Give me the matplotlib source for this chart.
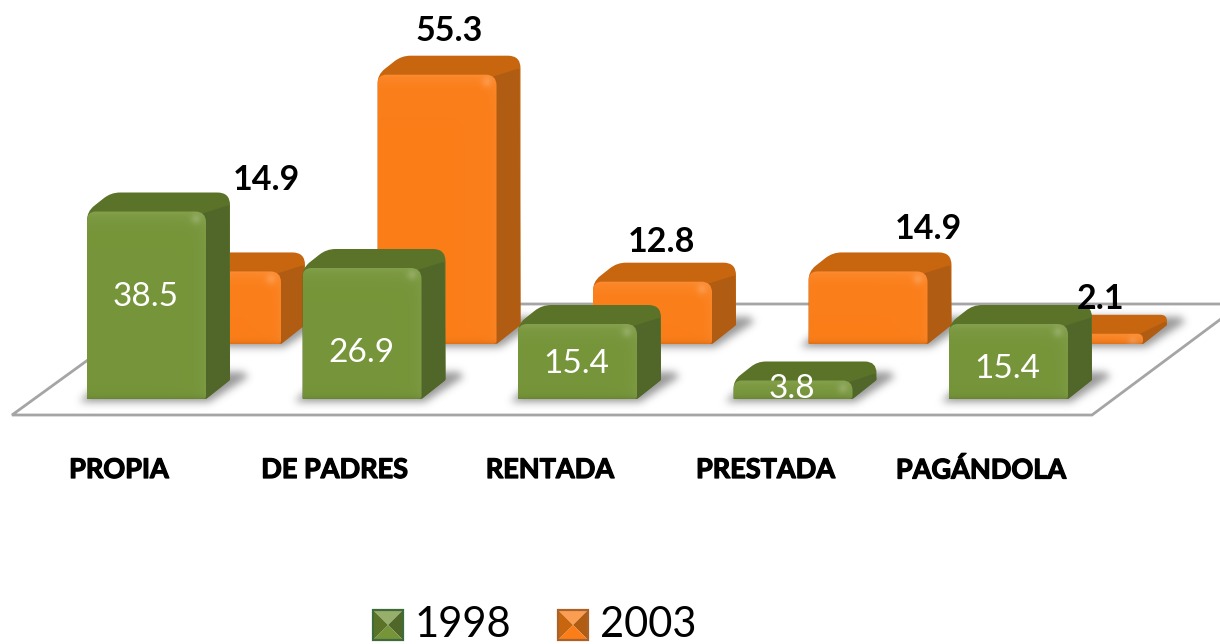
import numpy as np
import matplotlib
matplotlib.use("Agg")
import matplotlib.pyplot as plt
import matplotlib.patheffects as pe
from matplotlib.path import Path
from matplotlib.patches import PathPatch, Polygon

categories = ["PROPIA", "DE PADRES", "RENTADA", "PRESTADA", "PAGÁNDOLA"]
values_1998 = [38.5, 26.9, 15.4, 3.8, 15.4]
values_2003 = [14.9, 55.3, 12.8, 14.9, 2.1]
series_names = ["1998", "2003"]

# pixel offsets for the value labels, the picture does not place them evenly
green_label_dy = [8, -20, -2, 1, -7]
orange_label_dx = [33, 0, -3, 48, 5]
orange_label_dy = [72, 25, 21, 23, 16]

plt.rcParams["font.family"] = ["Lato", "DejaVu Sans"]

W, H = 1220, 644
SX = 215.5   # px per category
SY = 4.87    # px per value unit
X0 = 87      # px of first green bar
Y0 = 399     # px of green baseline
BAR_W = 119
DEPTH_X = 24
DEPTH_Y = 19
ORANGE_DX = 75
ORANGE_DY = 55

GREEN = dict(front=(0.463, 0.584, 0.224), top=(0.353, 0.451, 0.161), side=(0.318, 0.404, 0.165))
ORANGE = dict(front=(0.984, 0.494, 0.098), top=(0.780, 0.400, 0.059), side=(0.690, 0.361, 0.071))

fig = plt.figure(figsize=(W / 100, H / 100), dpi=100)
ax = fig.add_axes([0, 0, 1, 1])
ax.set_xlim(-X0 / SX, (W - X0) / SX)
ax.set_ylim(-(H - Y0) / SY, Y0 / SY)
ax.axis("off")


def px(x, y):
    # picture pixels to data coords
    return (x - X0) / SX, (Y0 - y) / SY


def rounded(points, radii):
    # closed path through pixel points with rounded corners
    pts = np.array(points, dtype=float)
    n = len(pts)
    verts, codes = [], []
    for i in range(n):
        p, a, b = pts[i], pts[i - 1], pts[(i + 1) % n]
        r = radii[i]
        if r <= 0:
            verts.append(p)
            codes.append(Path.LINETO)
            continue
        u = (a - p) / np.linalg.norm(a - p)
        v = (b - p) / np.linalg.norm(b - p)
        verts += [p + u * r, p, p + v * r]
        codes += [Path.LINETO, Path.CURVE3, Path.CURVE3]
    codes[0] = Path.MOVETO
    verts.append(verts[0])
    codes.append(Path.CLOSEPOLY)
    verts = np.array([px(*q) for q in verts])
    return Path(verts, codes)


def blur(a, sigma):
    k = np.exp(-0.5 * (np.arange(-12, 13) / sigma) ** 2)
    k = k / k.sum()
    a = np.apply_along_axis(lambda m: np.convolve(m, k, mode="same"), 0, a)
    a = np.apply_along_axis(lambda m: np.convolve(m, k, mode="same"), 1, a)
    return a


def shadow(xl, xr, yb, z):
    pts = [(xl - 8, yb + 3), (xr + 3, yb + 3), (xr + DEPTH_X + 18, yb - 22),
           (xr + DEPTH_X + 14, yb - 27), (xl + DEPTH_X, yb - 27)]
    x1, x2 = int(xl - 30), int(xr + DEPTH_X + 50)
    y1, y2 = int(yb - 50), int(yb + 24)
    yy, xx = np.mgrid[y1:y2, x1:x2]
    mask = Path(pts).contains_points(np.c_[xx.ravel() + 0.5, yy.ravel() + 0.5]).reshape(xx.shape)
    alpha = blur(mask.astype(float), 4.0) * 0.62
    img = np.zeros(xx.shape + (4,))
    img[..., :3] = 0.35
    img[..., 3] = alpha
    a, b = px(x1, y2)
    c, d = px(x2, y1)
    ax.imshow(img, extent=(a, c, b, d), aspect="auto", interpolation="bilinear", zorder=z)


def front_image(w, h, base):
    w, h = int(w), int(max(h, 2))
    yy, xx = np.mgrid[0:h, 0:w]
    yy = yy + 0.5
    xx = xx + 0.5
    base = np.array(base)
    light = np.exp(-yy / 7.0) * 0.11 + np.exp(-(w - xx) / 6.0) * 0.05
    spot = np.exp(-(((xx - (w - 10)) ** 2 + (yy - 8) ** 2) / 26.0)) * 0.16
    dark = np.exp(-(h - yy) / 2.5) * 0.12
    img = base[None, None, :] + (1 - base[None, None, :]) * (light + spot)[..., None]
    img = img * (1 - dark)[..., None]
    return np.clip(img, 0, 1)


def bar3d(xl, yb, value, colors, z):
    h = value * SY
    yt = yb - h
    xr = xl + BAR_W
    r = min(9, h * 0.45)
    outline = [(xl, yb), (xl, yt), (xl + DEPTH_X, yt - DEPTH_Y), (xr + DEPTH_X, yt - DEPTH_Y),
               (xr + DEPTH_X, yb - DEPTH_Y), (xr, yb)]
    ax.add_patch(PathPatch(rounded(outline, [1, r, r, r * 1.4, 1, 1]), facecolor=colors["top"],
                           edgecolor="none", zorder=z))
    side = [(xr - 6, yt + r * 0.3), (xr + DEPTH_X - 1, yt - DEPTH_Y + r * 1.4),
            (xr + DEPTH_X, yb - DEPTH_Y), (xr, yb)]
    ax.add_patch(PathPatch(rounded(side, [0, 2, 1, 1]), facecolor=colors["side"],
                           edgecolor="none", zorder=z + 0.1))
    face = [(xl, yb), (xl, yt), (xr, yt), (xr, yb)]
    clip = PathPatch(rounded(face, [1, r, r * 1.2, 3]), facecolor="none", edgecolor="none",
                     transform=ax.transData, zorder=z + 0.2)
    ax.add_patch(clip)
    x1, y1 = px(xl, yb)
    x2, y2 = px(xr, yt)
    im = ax.imshow(front_image(BAR_W, h, colors["front"]), extent=(x1, x2, y1, y2),
                   aspect="auto", interpolation="bilinear", zorder=z + 0.2)
    im.set_clip_path(clip)


# floor
floor = [px(12, 415), px(1092, 415), px(1241, 304), px(165, 304)]
ax.add_patch(Polygon(floor, closed=True, facecolor="white", edgecolor="#a5a5a5", lw=2, zorder=1))

# orange row sits behind, then the green one
for i, v in enumerate(values_2003):
    xl = X0 + SX * i + ORANGE_DX
    shadow(xl, xl + BAR_W, Y0 - ORANGE_DY, 2)
    bar3d(xl, Y0 - ORANGE_DY, v, ORANGE, 3 + i * 0.01)
for i, v in enumerate(values_1998):
    xl = X0 + SX * i
    shadow(xl, xl + BAR_W, Y0, 4)
for i, v in enumerate(values_1998):
    xl = X0 + SX * i
    bar3d(xl, Y0, v, GREEN, 5 + i * 0.01)

ax.set_xlim(-X0 / SX, (W - X0) / SX)
ax.set_ylim(-(H - Y0) / SY, Y0 / SY)

# value labels
for i, v in enumerate(values_1998):
    ax.text(i + (BAR_W / 2 - 1) / SX, v / 2 + green_label_dy[i] / SY, f"{v}", color="white",
            fontsize=24, ha="center", va="center", zorder=9)
for i, v in enumerate(values_2003):
    xc = i + (ORANGE_DX + BAR_W / 2 + DEPTH_X / 2 + orange_label_dx[i]) / SX
    yc = v + (ORANGE_DY + DEPTH_Y + orange_label_dy[i]) / SY
    ax.text(xc, yc, f"{v}", color="black", fontsize=24.5, fontweight="bold",
            ha="center", va="center", zorder=9)

# category labels
for i, c in enumerate(categories):
    x, y = px(X0 + SX * i + 32, 470)
    ax.text(x, y, c, color="black", fontsize=19.5, fontweight="bold", ha="center", va="center",
            zorder=9, path_effects=[pe.withStroke(linewidth=0.9, foreground="black")])


def swatch(xs, ys, size, colors, edge):
    # legend key, four bevelled triangles
    c = (xs + size / 2, ys + size / 2)
    corners = [(xs, ys), (xs + size, ys), (xs + size, ys + size), (xs, ys + size)]
    base = np.array(colors["front"])
    shades = [base + (1 - base) * 0.25, colors["side"], base, colors["top"]]
    for k in range(4):
        tri = [px(*corners[k]), px(*corners[(k + 1) % 4]), px(*c)]
        ax.add_patch(Polygon(tri, closed=True, facecolor=shades[k], edgecolor="none", zorder=8))
    box = [px(*p) for p in corners]
    ax.add_patch(Polygon(box, closed=True, facecolor="none", edgecolor=edge, lw=1.6, zorder=8))


swatch(373, 610, 30, GREEN, "#3f6b3a")
swatch(558, 610, 30, ORANGE, "#a9622a")
for name, xt in zip(series_names, [415, 600]):
    x, y = px(xt, 625)
    ax.text(x, y, name, color="black", fontsize=30, ha="left", va="center", zorder=9)

fig.savefig("out.png", dpi=100)
